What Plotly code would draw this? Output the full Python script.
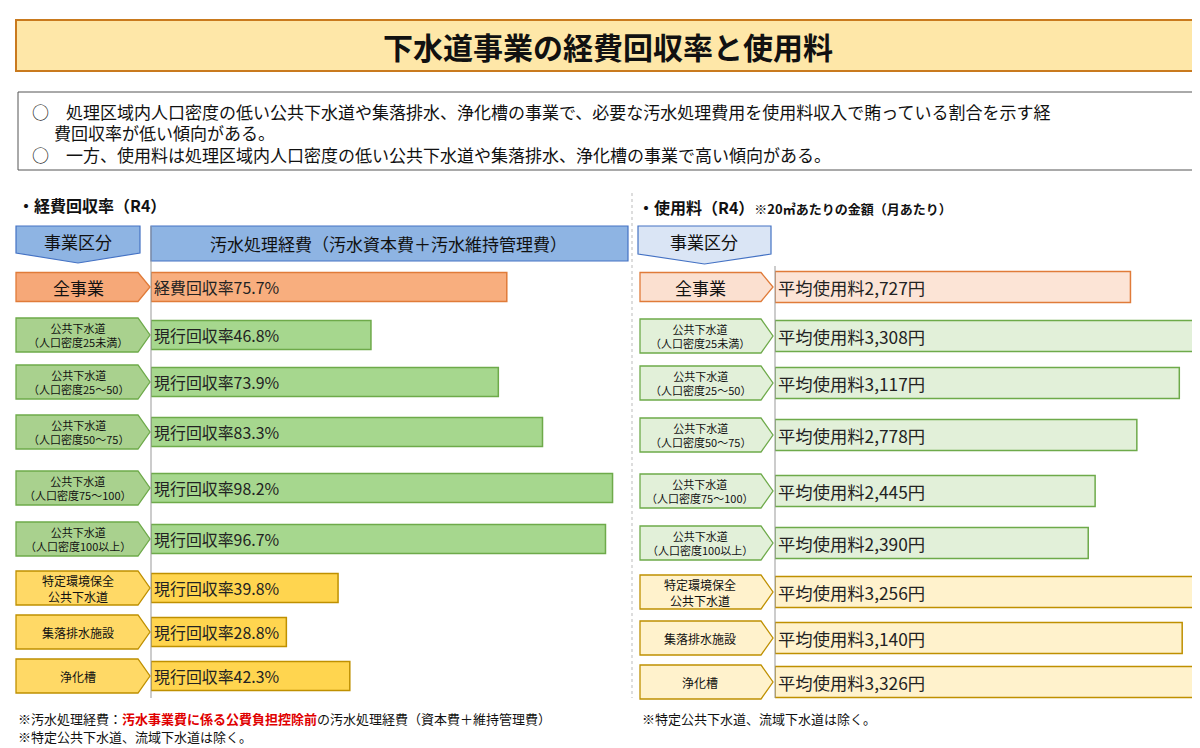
import plotly.graph_objects as go

W, H = 1200, 748
FONT = "Noto Sans CJK JP"

left_labels = ["全事業", "公共下水道<br>（人口密度25未満）", "公共下水道<br>（人口密度25～50）",
               "公共下水道<br>（人口密度50～75）", "公共下水道<br>（人口密度75～100）",
               "公共下水道<br>（人口密度100以上）", "特定環境保全<br>公共下水道", "集落排水施設", "浄化槽"]
rate = [75.7, 46.8, 73.9, 83.3, 98.2, 96.7, 39.8, 28.8, 42.3]
rate_prefix = ["経費回収率"] + ["現行回収率"] * 8
fee = [2727, 3308, 3117, 2778, 2445, 2390, 3256, 3140, 3326]
groups = ["all", "pub", "pub", "pub", "pub", "pub", "other", "other", "other"]

# row layout (pixel centres)
left_y = [279, 327, 374, 424, 480, 531, 580, 624, 668]
right_y = [279, 328, 375, 427, 483, 535, 584, 630, 674]

left_fill = {"all": "#F8AE7E", "pub": "#A6D78E", "other": "#FFD54F"}
left_line = {"all": "#E07B39", "pub": "#6EAA4A", "other": "#BF9000"}
lab_fill = {"all": "#F6A878", "pub": "#A9D18E", "other": "#FFD966"}
r_fill = {"all": "#FCE4D6", "pub": "#E2F0D9", "other": "#FFF2CC"}
r_lab = {"all": "#FBE0D0", "pub": "#E2F0D9", "other": "#FFF2CC"}

px = lambda x: x / W
py = lambda y: 1 - y / H

fig = go.Figure()
fig.add_trace(go.Bar(
    x=rate, y=left_y, orientation="h", width=29, xaxis="x", yaxis="y",
    marker=dict(color=[left_fill[g] for g in groups], line=dict(color=[left_line[g] for g in groups], width=1.5)),
    text=[f"{p}{v}%" for p, v in zip(rate_prefix, rate)], textposition="inside", insidetextanchor="start",
    textfont=dict(size=18, color="#222", family=FONT), hoverinfo="skip", cliponaxis=False))
fig.add_trace(go.Bar(
    x=[v + 110 for v in fee], base=-110, y=right_y, orientation="h", width=31, xaxis="x2", yaxis="y",
    marker=dict(color=[r_fill[g] for g in groups], line=dict(color=[left_line[g] for g in groups], width=1.5)),
    text=[f"平均使用料{v:,}円" for v in fee], textposition="inside", insidetextanchor="start",
    textfont=dict(size=18, color="#222", family=FONT), hoverinfo="skip", cliponaxis=False))

shapes, ann = [], []

def pent(x0, x1, yc, h, fill, line):
    t, b = yc - h / 2, yc + h / 2
    tip = x1 + 12
    shapes.append(dict(type="path", xref="paper", yref="paper",
                       path=f"M{px(x0)},{py(t)} L{px(x1)},{py(t)} L{px(tip)},{py(yc)} L{px(x1)},{py(b)} L{px(x0)},{py(b)} Z",
                       fillcolor=fill, line=dict(color=line, width=1.3)))

def down(x0, x1, t, b, fill):
    mid = (x0 + x1) / 2
    shapes.append(dict(type="path", xref="paper", yref="paper",
                       path=f"M{px(x0)},{py(t)} L{px(x1)},{py(t)} L{px(x1)},{py(b - 10)} L{px(mid)},{py(b)} L{px(x0)},{py(b - 10)} Z",
                       fillcolor=fill, line=dict(color="#4472C4", width=1.2)))

def text(x, y, s, size, anchor="center", color="#111", bold=False):
    if bold:
        s = f"<b>{s}</b>"
    ann.append(dict(x=px(x), y=py(y), xref="paper", yref="paper", text=s, showarrow=False,
                    xanchor=anchor, yanchor="middle", font=dict(size=size, color=color, family=FONT)))

# title
shapes.append(dict(type="rect", xref="paper", yref="paper", x0=px(8), x1=px(1192), y0=py(63), y1=py(12),
                   fillcolor="#FEE7A8", line=dict(color="#C97A1E", width=2)))
text(600, 38, "下水道事業の経費回収率と使用料", 30, bold=True)
# summary box
shapes.append(dict(type="rect", xref="paper", yref="paper", x0=px(10), x1=px(1190), y0=py(162), y1=py(84),
                   fillcolor="white", line=dict(color="#555", width=1)))
text(22, 103, "○　処理区域内人口密度の低い公共下水道や集落排水、浄化槽の事業で、必要な汚水処理費用を使用料収入で賄っている割合を示す経", 17, "left")
text(44, 124, "費回収率が低い傾向がある。", 17, "left")
text(22, 146, "○　一方、使用料は処理区域内人口密度の低い公共下水道や集落排水、浄化槽の事業で高い傾向がある。", 17, "left")

text(8, 197, "・経費回収率（R4）", 16, "left", bold=True)
text(628, 199, "・使用料（R4）<span style='font-size:13px'>※20㎥あたりの金額（月あたり）</span>", 16, "left", bold=True)

down(8, 132, 218, 255, "#8EB4E3")
shapes.append(dict(type="rect", xref="paper", yref="paper", x0=px(143), x1=px(620), y0=py(253), y1=py(218),
                   fillcolor="#8EB4E3", line=dict(color="#4472C4", width=1.2)))
text(70, 234, "事業区分", 17)
text(380, 236, "汚水処理経費（汚水資本費＋汚水維持管理費）", 17)
down(630, 763, 218, 256, "#DAE5F5")
text(696, 234, "事業区分", 17)

shapes.append(dict(type="line", xref="paper", yref="paper", x0=px(143), x1=px(143), y0=py(218), y1=py(690),
                   line=dict(color="#999", width=1)))
shapes.append(dict(type="line", xref="paper", yref="paper", x0=px(767), x1=px(767), y0=py(258), y1=py(690),
                   line=dict(color="#999", width=1)))
shapes.append(dict(type="line", xref="paper", yref="paper", x0=px(624), x1=px(624), y0=py(185), y1=py(690),
                   line=dict(color="#bbb", width=1, dash="dot")))

for lab, g, yl, yr in zip(left_labels, groups, left_y, right_y):
    h = 29 if g == "all" else 34
    pent(8, 130, yl, h, lab_fill[g], left_line[g])
    pent(632, 753, yr, h, r_lab[g], left_line[g])
    size = 17 if g == "all" else (11 if "<br>" in lab else 12)
    if lab in ("特定環境保全<br>公共下水道",):
        size = 12
    text(70, yl, lab, size)
    text(692, yr, lab, size)

text(8, 710, "※汚水処理経費：<span style='color:#E00000'><b>汚水事業費に係る公費負担控除前</b></span>の汚水処理経費（資本費＋維持管理費）", 13, "left")
text(8, 728, "※特定公共下水道、流域下水道は除く。", 13, "left")
text(632, 710, "※特定公共下水道、流域下水道は除く。", 13, "left")

fig.update_layout(
    width=W, height=H, margin=dict(l=0, r=0, t=0, b=0), paper_bgcolor="white", plot_bgcolor="rgba(0,0,0,0)",
    showlegend=False, shapes=shapes, annotations=ann, font=dict(family=FONT),
    xaxis=dict(domain=[px(143), px(613)], range=[0, 100], visible=False),
    xaxis2=dict(domain=[px(767), px(1198)], range=[-110, 3330], visible=False),
    yaxis=dict(domain=[0, 1], range=[H, 0], visible=False),
)
fig.write_html("out.html")
